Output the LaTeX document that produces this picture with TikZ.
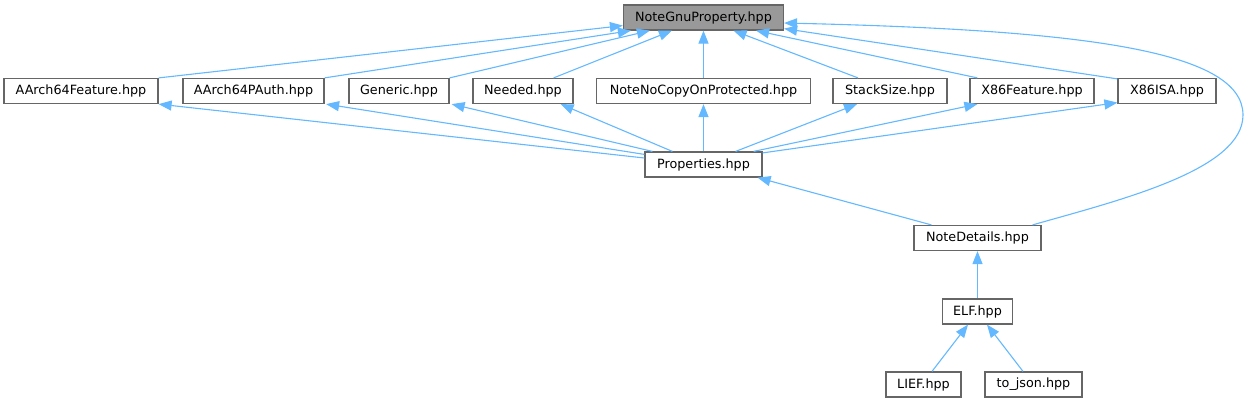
\documentclass[tikz,border=0pt]{standalone}
\usepackage{fontspec}
\setmainfont{DejaVu Sans}
\usetikzlibrary{arrows.meta,calc}
\definecolor{edgeblue}{HTML}{63B8FF}
\definecolor{boxborder}{HTML}{666666}
\definecolor{rootfill}{HTML}{999999}
\begin{document}
\begin{tikzpicture}[x=1bp,y=-1bp,
  box/.style={draw=boxborder,fill=white,line width=1.2bp,minimum height=25bp,inner sep=0pt,
              font=\fontsize{12.8}{15}\selectfont,text=black},
  rootbox/.style={box,fill=rootfill},
  edge/.style={draw=edgeblue,line width=1.1bp,-{Triangle[length=13bp,width=10bp]}}]
\useasboundingbox (0,0) rectangle (1249,403);
% nodes
\node[rootbox,minimum width=160bp] (ngp) at (703.5,17.5) {NoteGnuProperty.hpp};
\node[box,minimum width=154bp] (a64f) at (81,91) {AArch64Feature.hpp};
\node[box,minimum width=141bp] (a64p) at (253.5,91) {AArch64PAuth.hpp};
\node[box,minimum width=100bp] (generic) at (399,91) {Generic.hpp};
\node[box,minimum width=100bp] (needed) at (523,91) {Needed.hpp};
\node[box,minimum width=214bp] (nncop) at (703.5,91) {NoteNoCopyOnProtected.hpp};
\node[box,minimum width=114bp] (stack) at (890,91) {StackSize.hpp};
\node[box,minimum width=124bp] (x86f) at (1032,91) {X86Feature.hpp};
\node[box,minimum width=98bp] (x86isa) at (1167,91) {X86ISA.hpp};
\node[box,minimum width=117bp] (props) at (703.5,164.5) {Properties.hpp};
\node[box,minimum width=127bp] (nd) at (977.5,238) {NoteDetails.hpp};
\node[box,minimum width=70bp] (elf) at (977.5,311.5) {ELF.hpp};
\node[box,minimum width=75bp] (lief) at (923.5,384.5) {LIEF.hpp};
\node[box,minimum width=97bp] (tojson) at (1033.5,384.5) {to\_json.hpp};
% edges into NoteGnuProperty
\draw[edge] (a64f.north east) -- ($(ngp.south west)+(0,-5)$);
\draw[edge] (a64p.north east) -- ($(ngp.south west)+(8,0)$);
\draw[edge] (generic.north east) -- ($(ngp.south west)+(27,0)$);
\draw[edge] ($(needed.north east)+(-20,0)$) -- ($(ngp.south west)+(49,0)$);
\draw[edge] (nncop.north) -- (ngp.south);
\draw[edge] ($(stack.north)+(-32,0)$) -- ($(ngp.south)+(30,0)$);
\draw[edge] ($(x86f.north west)+(8,0)$) -- ($(ngp.south east)+(-28,0)$);
\draw[edge] ($(x86isa.north west)+(0,1)$) -- ($(ngp.south east)+(0,-2)$);
\draw[edge] ($(nd.north east)+(-9,0)$) .. controls (1120,200) and (1243,170) .. (1243,115)
            .. controls (1243,50) and (1080,30) .. ($(ngp.east)+(0,5.5)$);
% edges from Properties
\draw[edge] ($(props.west)+(0,-6.5)$) -- (a64f.south east);
\draw[edge] ($(props.north west)+(0,3)$) -- ($(a64p.south east)+(1.5,0)$);
\draw[edge] ($(props.north west)+(8,0)$) -- ($(generic.south east)+(2,0)$);
\draw[edge] ($(props.north west)+(28,0)$) -- ($(needed.south east)+(-13,0)$);
\draw[edge] (props.north) -- (nncop.south);
\draw[edge] ($(props.north east)+(-27,0)$) -- ($(stack.south)+(-33,0)$);
\draw[edge] ($(props.north east)+(-9,0)$) -- ($(x86f.south west)+(8,0)$);
\draw[edge] ($(props.north east)+(0,1.5)$) -- ($(x86isa.south west)+(0,-1.5)$);
% lower edges
\draw[edge] ($(nd.north west)+(18,0)$) -- ($(props.south east)+(-5,0)$);
\draw[edge] (elf.north) -- (nd.south);
\draw[edge] ($(lief.north)+(8.5,0)$) -- ($(elf.south)+(-9.5,0)$);
\draw[edge] ($(tojson.north)+(-10.5,0)$) -- ($(elf.south)+(9.5,0)$);
\end{tikzpicture}
\end{document}
